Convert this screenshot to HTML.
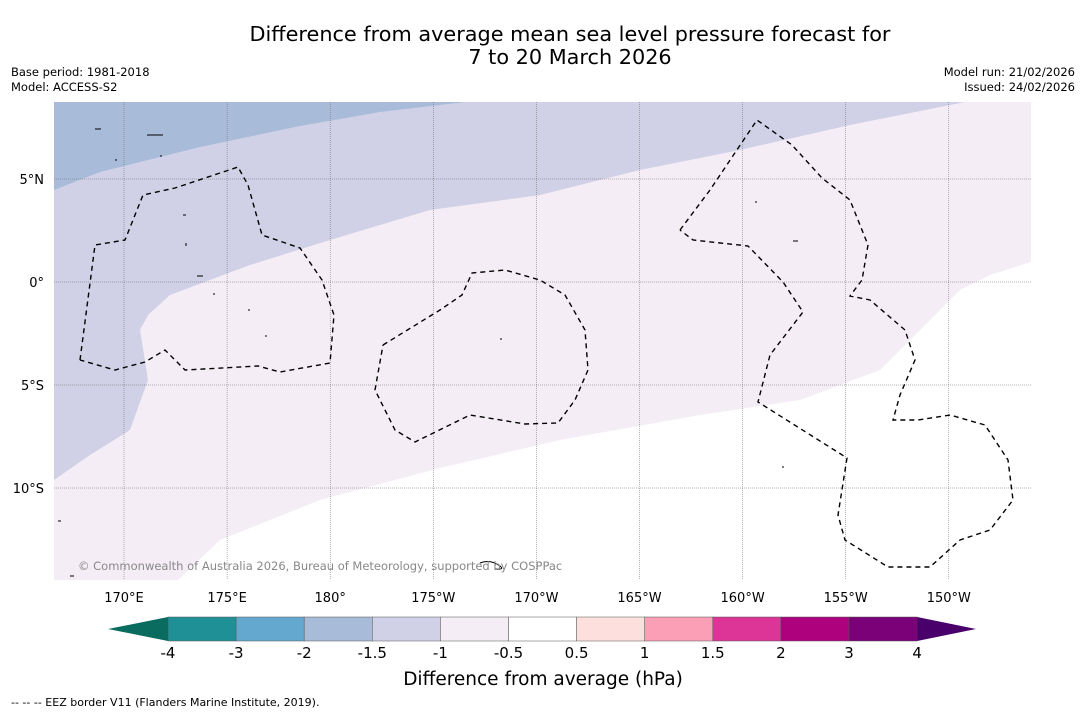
<!DOCTYPE html>
<html><head><meta charset="utf-8"><style>
body{margin:0;background:#fff;font-family:"Liberation Sans","DejaVu Sans",sans-serif}
svg text{font-family:"DejaVu Sans","Liberation Sans",sans-serif}
</style></head><body>
<svg id="s" width="1085" height="713" xmlns="http://www.w3.org/2000/svg">
<rect width="1085" height="713" fill="#fff"/>
<text x="570" y="41" font-size="20.8" text-anchor="middle">Difference from average mean sea level pressure forecast for</text>
<text x="570" y="64" font-size="20.8" text-anchor="middle">7 to 20 March 2026</text>
<text x="11" y="76" font-size="11.5">Base period: 1981-2018</text>
<text x="11" y="91" font-size="11.5">Model: ACCESS-S2</text>
<text x="1075" y="76" font-size="11.5" text-anchor="end">Model run: 21/02/2026</text>
<text x="1075" y="91" font-size="11.5" text-anchor="end">Issued: 24/02/2026</text>
<defs><clipPath id="mc"><rect x="54" y="102" width="977" height="478"/></clipPath></defs>
<g clip-path="url(#mc)">
<rect x="54" y="102" width="977" height="478" fill="#fff"/>
<path d="M54,102 H1031 V262 L990,275 L960,290 L920,330 L880,370 L800,400 L700,415 L560,440 L440,468 L320,500 L220,540 L178,580 H54Z" fill="#f4edf5"/>
<path d="M54,102 H965 L850,125 L740,150 L640,170 L540,195 L430,210 L330,240 L250,265 L170,295 L148,315 L140,330 L148,380 L130,430 L90,455 L54,480Z" fill="#d0d1e6"/>
<path d="M54,102 H465 L380,112 L300,126 L200,147 L100,172 L54,190Z" fill="#a8bbd8"/>
<g id="grid" stroke="#666" stroke-width="0.5" stroke-dasharray="1,1"></g>
<g fill="none" stroke="#000" stroke-width="1.4" stroke-dasharray="5,4">
<path d="M80,360 L95,245 L125,240 L143,195 L175,188 L238,167 L248,185 L262,235 L300,248 L322,280 L334,315 L330,363 L280,372 L258,366 L185,370 L165,350 L145,362 L115,370 L80,360"/>
<path d="M383,345 L440,310 L462,295 L472,273 L505,270 L540,280 L565,295 L585,330 L588,370 L575,400 L558,423 L525,424 L470,415 L415,442 L395,430 L375,390 L383,345"/>
<path d="M680,230 L710,190 L757,120 L792,145 L822,178 L850,200 L868,245 L862,280 L850,296 L870,300 L905,330 L915,360 L900,395 L893,420 L918,420 L950,415 L985,425 L1008,460 L1013,500 L990,530 L960,540 L930,567 L888,567 L845,540 L838,515 L847,458 L758,402 L770,355 L803,312 L783,282 L748,246 L693,240 L680,230"/>
</g>
<g fill="none" stroke="#000" stroke-width="1">
<path d="M147,135 h16 M95,129 h6 M183,215 h3 M186,243 v3 M197,276 h6 M213,294 h2 M500,339 h2 M755,202 h2 M793,241 h5 M782,467 h2 M58,521 h3 M70,576 h4 M480,563 q10,-4 20,3 q5,4 -5,3 M115,160 h2 M160,156 h2 M248,310 h2 M265,336 h2"/>
</g>
</g>
<text x="78" y="570" font-size="11.5" fill="#888">© Commonwealth of Australia 2026, Bureau of Meteorology, supported by COSPPac</text>
<g id="ticks" font-size="13"></g>
<g id="cbar"></g>
<text x="543" y="685" font-size="18.5" text-anchor="middle">Difference from average (hPa)</text>
<text x="11" y="706" font-size="11">--  --  -- EEZ border V11 (Flanders Marine Institute, 2019).</text>
</svg>
<script>
const lonLabels=["170°E","175°E","180°","175°W","170°W","165°W","160°W","155°W","150°W"];
const latLabels=["5°N","0°","5°S","10°S"];
const levels=["-4","-3","-2","-1.5","-1","-0.5","0.5","1","1.5","2","3","4"];
const colors=["#1f9196","#64a8cf","#a8bbd8","#d0d1e6","#f4edf5","#ffffff","#fde0dd","#fa9fb5","#dd3497","#ae017e","#7a0177"];
const NS="http://www.w3.org/2000/svg";
function mk(t,a,p){const e=document.createElementNS(NS,t);for(const k in a)e.setAttribute(k,a[k]);p.appendChild(e);return e;}
const lonX=i=>124+i*103.1, latY=i=>179+i*103;
const grid=document.getElementById('grid'),ticks=document.getElementById('ticks');
lonLabels.forEach((l,i)=>{
const g=mk('line',{x1:lonX(i),x2:lonX(i),y1:102,y2:580},grid);


const t=mk('text',{x:lonX(i),y:602,'text-anchor':'middle'},ticks);t.textContent=l;


});
latLabels.forEach((l,i)=>{
const g=mk('line',{x1:54,x2:1031,y1:latY(i),y2:latY(i)},grid);


const t=mk('text',{x:44,y:latY(i)+5,'text-anchor':'end'},ticks);t.textContent=l;


});
const cb=document.getElementById('cbar');
const x0=168,w=68.1,y0=617,h=24;
colors.forEach((c,i)=>{
const r=mk('rect',{x:x0+i*w,y:y0,width:w,height:h,fill:c,stroke:'#555','stroke-width':0.5},cb);


});
const xe=x0+colors.length*w;
const lt=mk('path',{d:`M${x0},${y0} L108,${y0+h/2} L${x0},${y0+h}Z`,fill:'#0a6c5e'},cb);


const rt=mk('path',{d:`M${xe},${y0} L976,${y0+h/2} L${xe},${y0+h}Z`,fill:'#49006a'},cb);


levels.forEach((l,i)=>{
const t=mk('text',{x:x0+i*w,y:658,'font-size':15,'text-anchor':'middle'},cb);t.textContent=l;


});
</script>
</body></html>
